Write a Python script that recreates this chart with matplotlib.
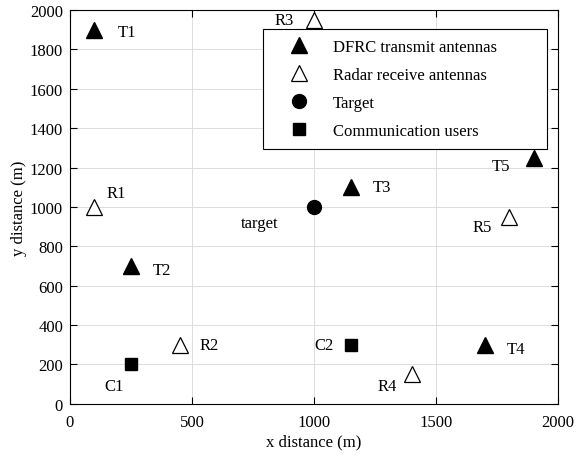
import numpy as np
import matplotlib
matplotlib.use("Agg")
import matplotlib.pyplot as plt

plt.rcParams['font.family'] = ['Liberation Serif', 'DejaVu Serif']
plt.rcParams['font.size'] = 12

# positions (m)
tx_x = [100, 250, 1150, 1700, 1900]
tx_y = [1900, 700, 1100, 300, 1250]
tx_names = ['T1', 'T2', 'T3', 'T4', 'T5']
rx_x = [100, 450, 1000, 1400, 1800]
rx_y = [1000, 300, 1950, 150, 950]
rx_names = ['R1', 'R2', 'R3', 'R4', 'R5']
tgt_x = [1000]
tgt_y = [1000]
cu_x = [250, 1150]
cu_y = [200, 300]
cu_names = ['C1', 'C2']

# label anchors (m)
tx_lab = [(195, 1890), (340, 680), (1240, 1100), (1790, 280), (1730, 1210)]
rx_lab = [(150, 1070), (530, 300), (840, 1950), (1260, 90), (1650, 900)]
cu_lab = [(140, 90), (1000, 300)]
tgt_lab = (700, 920)

fig = plt.figure(figsize=(5.76, 4.6), dpi=100)
ax = fig.add_axes([0.1215, 0.12, 0.8475, 0.856])

ax.plot(tx_x, tx_y, '^', color='k', markersize=12, linestyle='none', label='DFRC transmit antennas')
ax.plot(rx_x, rx_y, '^', markerfacecolor='w', markeredgecolor='k', markersize=12, markeredgewidth=0.9,
        linestyle='none', label='Radar receive antennas')
ax.plot(tgt_x, tgt_y, 'o', color='k', markersize=10, linestyle='none', label='Target')
ax.plot(cu_x, cu_y, 's', color='k', markersize=8.5, linestyle='none', label='Communication users')

for (lx, ly), s in zip(tx_lab, tx_names):
    ax.text(lx, ly, s, ha='left', va='center')
for (lx, ly), s in zip(rx_lab, rx_names):
    ax.text(lx, ly, s, ha='left', va='center')
for (lx, ly), s in zip(cu_lab, cu_names):
    ax.text(lx, ly, s, ha='left', va='center')
ax.text(tgt_lab[0], tgt_lab[1], 'target', ha='left', va='center')

ax.set_xlim(0, 2000)
ax.set_ylim(0, 2000)
ax.set_xticks(np.arange(0, 2001, 500))
ax.set_yticks(np.arange(0, 2001, 200))
ax.grid(True, color='#dcdcdc', linewidth=0.7)
ax.set_axisbelow(True)
ax.tick_params(direction='in', top=True, right=True, length=5, width=0.8)
ax.tick_params(axis='x', pad=7)
ax.tick_params(axis='y', pad=5)
for sp in ax.spines.values():
    sp.set_linewidth(0.8)
ax.set_xlabel('x distance (m)', labelpad=3)
ax.set_ylabel('y distance (m)', labelpad=2)

# legend box stretched like matlab's
leg = ax.legend(loc='upper left', bbox_to_anchor=(0.395, 0.652, 0.582, 0.300), mode='expand',
                borderaxespad=0, fancybox=False, edgecolor='k', framealpha=1,
                handlelength=3.2, borderpad=0.6, labelspacing=0.72, handletextpad=0.4)
leg.get_frame().set_linewidth(0.8)

fig.savefig('out.png', dpi=100)
